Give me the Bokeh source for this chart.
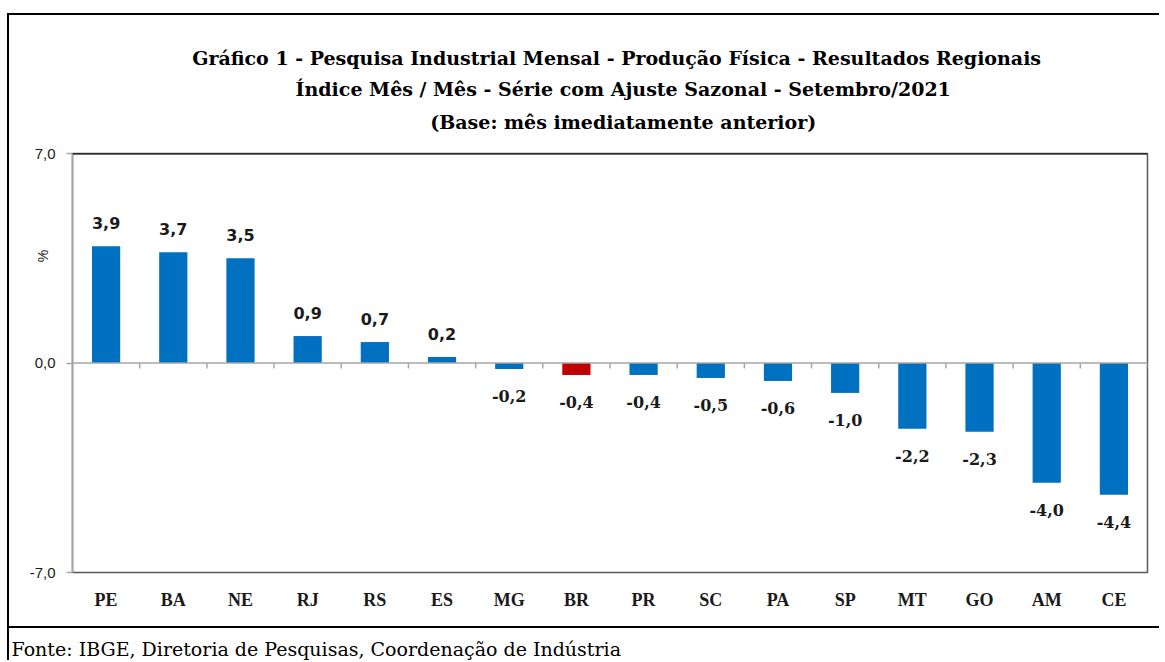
from bokeh.plotting import figure
from bokeh.layouts import column
from bokeh.models import (ColumnDataSource, FactorRange, Range1d, FixedTicker, Span, Title)
from bokeh.transform import dodge
from bokeh.core.properties import value
from bokeh.embed import file_html
from bokeh.resources import INLINE

# ---- data ----
regions = ["PE", "BA", "NE", "RJ", "RS", "ES", "MG", "BR", "PR", "SC", "PA", "SP", "MT", "GO", "AM", "CE"]
values = [3.9, 3.7, 3.5, 0.9, 0.7, 0.2, -0.2, -0.4, -0.4, -0.5, -0.6, -1.0, -2.2, -2.3, -4.0, -4.4]
y_ticks = [-7, 0, 7]
y_tick_labels = ["-7,0", "0,0", "7,0"]
title_lines = [
    "Gráfico  1 - Pesquisa Industrial Mensal - Produção Física  - Resultados Regionais",
    "Índice Mês / Mês - Série com Ajuste Sazonal - Setembro/2021",
    "(Base: mês imediatamente anterior)",
]
y_unit = "%"
source_text = "Fonte: IBGE, Diretoria de Pesquisas, Coordenação de Indústria"
highlight = "BR"

BLUE = "#0070C0"
RED = "#C00000"
TXT = "#1a1a1a"
NBSP = "\u00a0"
SHIFT = NBSP * 4   # nudges the centred title lines slightly to the right


def fmt(v):
    return f"{v:.1f}".replace(".", ",")


colors = [RED if r == highlight else BLUE for r in regions]
src = ColumnDataSource(dict(cat=regions, val=values, color=colors))
pos = ColumnDataSource(dict(cat=[r for r, v in zip(regions, values) if v >= 0],
                            val=[v for v in values if v >= 0],
                            lbl=[fmt(v) for v in values if v >= 0]))
neg = ColumnDataSource(dict(cat=[r for r, v in zip(regions, values) if v < 0],
                            val=[v for v in values if v < 0],
                            lbl=[fmt(v) for v in values if v < 0]))
tick_src = ColumnDataSource(dict(cat=regions))

p = figure(width=1150, height=613, x_range=FactorRange(*regions, range_padding=0),
           y_range=Range1d(-7, 7), output_backend="svg", toolbar_location=None,
           title=None, min_border_left=63, min_border_right=12,
           min_border_top=138, min_border_bottom=56,
           styles={"border-bottom": "2px solid #000000"})
p.background_fill_color = "white"
p.border_fill_color = "white"
p.outline_line_color = "#595959"
p.outline_line_width = 1.5
p.xgrid.grid_line_color = None
p.ygrid.grid_line_color = None

# bars
p.vbar(x="cat", top="val", bottom=0, width=0.42, fill_color="color",
       line_color=None, source=src)

# zero line, top frame line, small boundary ticks on the zero line
p.add_layout(Span(location=0, dimension="width", line_color="#A6A6A6", line_width=1.5))
p.add_layout(Span(location=7, dimension="width", line_color="#000000", line_width=2))
p.segment(x0=dodge("cat", 0.5, range=p.x_range), x1=dodge("cat", 0.5, range=p.x_range),
          y0=0, y1=-0.18, line_color="#A6A6A6", line_width=1.5, source=tick_src)

# value labels
p.text(x="cat", y="val", text="lbl", source=pos, text_align="center",
       text_baseline="middle", y_offset=-23, text_font=value("DejaVu Sans"),
       text_font_style="bold", text_font_size="16px", text_color=TXT)
p.text(x="cat", y="val", text="lbl", source=neg, text_align="center",
       text_baseline="middle", y_offset=27, text_font=value("DejaVu Serif"),
       text_font_style="bold", text_font_size="16px", text_color=TXT)

# axes
xa = p.xaxis[0]
xa.axis_line_color = None
xa.major_tick_line_color = None
xa.minor_tick_line_color = None
xa.major_tick_out = 0
xa.major_tick_in = 0
xa.major_label_standoff = 17
xa.major_label_text_font = "Liberation Serif"
xa.major_label_text_font_style = "bold"
xa.major_label_text_font_size = "18px"
xa.major_label_text_color = TXT

ya = p.yaxis[0]
ya.ticker = FixedTicker(ticks=y_ticks)
ya.major_label_overrides = {t: l for t, l in zip(y_ticks, y_tick_labels)}
ya.axis_line_color = "#A6A6A6"
ya.axis_line_width = 1.5
ya.major_tick_line_color = "#A6A6A6"
ya.major_tick_line_width = 1.5
ya.major_tick_out = 6
ya.major_tick_in = 0
ya.minor_tick_line_color = None
ya.major_label_standoff = 11
ya.major_label_text_font = "Liberation Sans"
ya.major_label_text_font_size = "15px"
ya.major_label_text_color = TXT
# unit label, shifted toward the upper part of the axis
ya.axis_label = NBSP * 55 + y_unit
ya.axis_label_standoff = -24
ya.axis_label_text_font = "Liberation Sans"
ya.axis_label_text_font_style = "normal"
ya.axis_label_text_font_size = "14px"
ya.axis_label_text_color = TXT

# spacer between the frame and the title block
p.add_layout(Title(text=NBSP, standoff=15, text_font_size="2px"), "above")
# titles (added innermost first)
for t, so in zip(reversed(title_lines), [4, 14, 0]):
    p.add_layout(Title(text=SHIFT + t, align="center", standoff=so,
                       text_font="DejaVu Serif", text_font_style="bold",
                       text_font_size="19px", text_color="#000000"), "above")

# footer strip
f = figure(width=1150, height=32, output_backend="svg", toolbar_location=None,
           title=None, x_axis_type=None, y_axis_type=None,
           min_border_left=3, min_border_right=0, min_border_top=30, min_border_bottom=0)
f.outline_line_color = None
f.xgrid.grid_line_color = None
f.ygrid.grid_line_color = None
f.background_fill_color = "white"
f.border_fill_color = "white"
f.add_layout(Title(text=source_text, align="left", offset=-61, standoff=-3,
                   text_font="DejaVu Serif", text_font_style="normal",
                   text_font_size="19px", text_color="#000000"), "above")

layout = column(p, f, spacing=0,
                styles={"margin-left": "7px", "margin-top": "13px",
                        "border-left": "2px solid #000000",
                        "border-top": "2px solid #000000"})

open("out.html", "w").write(file_html(layout, INLINE))
